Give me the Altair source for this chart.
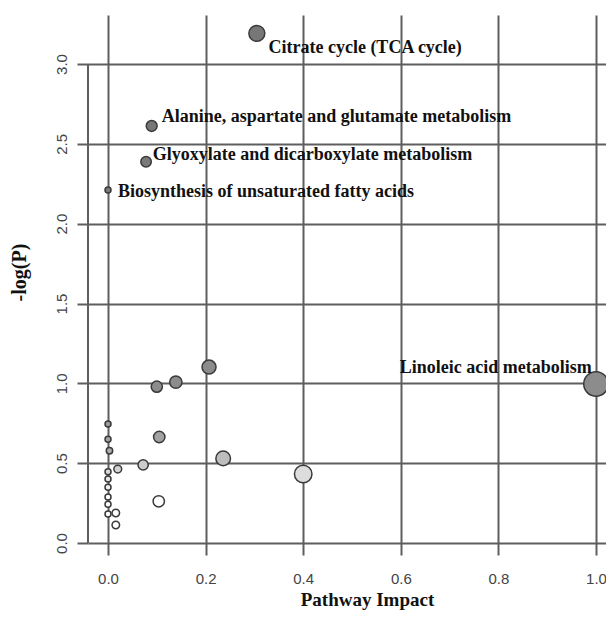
import altair as alt
import pandas as pd

# ---- data ----
impact = [0.305, 0.0895, 0.078, 0.0, 1.0,
          0.207, 0.139, 0.100, 0.105, 0.236, 0.400, 0.072,
          0.0, 0.0, 0.003, 0.020, 0.0, 0.0, 0.0, 0.0, 0.0, 0.0,
          0.016, 0.016, 0.104]
neglogp = [3.192, 2.612, 2.388, 2.211, 0.996,
           1.102, 1.008, 0.979, 0.664, 0.530, 0.432, 0.489,
           0.745, 0.650, 0.578, 0.463, 0.447, 0.401, 0.349, 0.288, 0.242, 0.182,
           0.188, 0.113, 0.261]
pathway = ["Citrate cycle (TCA cycle)",
           "Alanine, aspartate and glutamate metabolism",
           "Glyoxylate and dicarboxylate metabolism",
           "Biosynthesis of unsaturated fatty acids",
           "Linoleic acid metabolism"] + [""] * 20

x_ticks = [0.0, 0.2, 0.4, 0.6, 0.8, 1.0]
y_ticks = [0.0, 0.5, 1.0, 1.5, 2.0, 2.5, 3.0]

df = pd.DataFrame({"impact": impact, "neglogp": neglogp, "pathway": pathway})

# ---- styling ----
GRID = "#5e5e5e"
LW = 2
W, H = 518, 528

x_scale = alt.Scale(domain=[-0.041, 1.0205], nice=False, zero=False)
y_scale = alt.Scale(domain=[0, 3.307], nice=False, zero=False)

x_axis = alt.Axis(values=x_ticks, format=".1f", grid=True, gridColor=GRID, gridWidth=LW,
                  gridOpacity=1, tickSize=12, tickColor=GRID, tickWidth=LW, domain=False,
                  labelFont="Liberation Sans", labelFontSize=15, labelColor="#444",
                  labelPadding=28, labelBaseline="alphabetic", labelOverlap=False,
                  labelBound=False,
                  title="Pathway Impact", titleFont="Liberation Serif", titleFontWeight="bold",
                  titleFontSize=19, titleColor="#111", titleX=279, titleY=62,
                  titleAlign="center", titleBaseline="alphabetic")
y_axis = alt.Axis(values=y_ticks, format=".1f", grid=True, gridColor=GRID, gridWidth=LW,
                  gridOpacity=1, tickSize=11, tickColor=GRID, tickWidth=LW, domain=False,
                  labelFont="Liberation Sans", labelFontSize=15, labelColor="#444",
                  labelAngle=270, labelAlign="center", labelBaseline="middle", labelPadding=16,
                  title="-log(P)", titleFont="Liberation Serif", titleFontWeight="bold",
                  titleFontSize=20, titleColor="#111", titleAngle=270, titleX=-69, titleY=257,
                  titleAlign="center", titleBaseline="middle")

base = alt.Chart(df)

points = base.mark_circle(opacity=1, stroke="#3a3a3a", strokeWidth=1.5).encode(
    x=alt.X("impact:Q", scale=x_scale, axis=x_axis),
    y=alt.Y("neglogp:Q", scale=y_scale, axis=y_axis),
    size=alt.Size("impact:Q", scale=alt.Scale(type="pow", exponent=0.8, domain=[0, 1],
                                              range=[36, 600]), legend=None),
    color=alt.Color("neglogp:Q", scale=alt.Scale(domain=[0.3, 0.45, 0.6, 1.0, 2.5],
                                                 range=["#ffffff", "#d8d8d8", "#a6a6a6",
                                                        "#8c8c8c", "#777777"],
                                                 clamp=True), legend=None),
)

yline = alt.Chart(pd.DataFrame({"k": [0]})).mark_rule(color=GRID, strokeWidth=LW).encode(
    x=alt.value(0), y=alt.datum(0, scale=y_scale), y2=alt.datum(3.0)
)

label_style = {
    "Citrate cycle (TCA cycle)": dict(align="left", dx=11.6, dy=20),
    "Alanine, aspartate and glutamate metabolism": dict(align="left", dx=10, dy=-4.3),
    "Glyoxylate and dicarboxylate metabolism": dict(align="left", dx=6.7, dy=-1.7),
    "Biosynthesis of unsaturated fatty acids": dict(align="left", dx=10, dy=6.7),
    "Linoleic acid metabolism": dict(align="right", dx=-4.3, dy=-10.7),
}

labels = []
for name, st in label_style.items():
    labels.append(
        base.transform_filter(alt.datum.pathway == name).mark_text(
            font="Liberation Serif", fontWeight="bold", fontSize=18, color="#111",
            baseline="alphabetic", **st
        ).encode(x="impact:Q", y="neglogp:Q", text="pathway:N")
    )

chart = alt.layer(yline, points, *labels).properties(
    width=W, height=H,
    autosize=alt.AutoSizeParams(type="none"),
    padding={"left": 80, "top": 7, "right": 0, "bottom": 67},
    background="white",
).configure_view(stroke=None)

chart.save("out.html", embed_options={"renderer": "svg", "actions": False})
